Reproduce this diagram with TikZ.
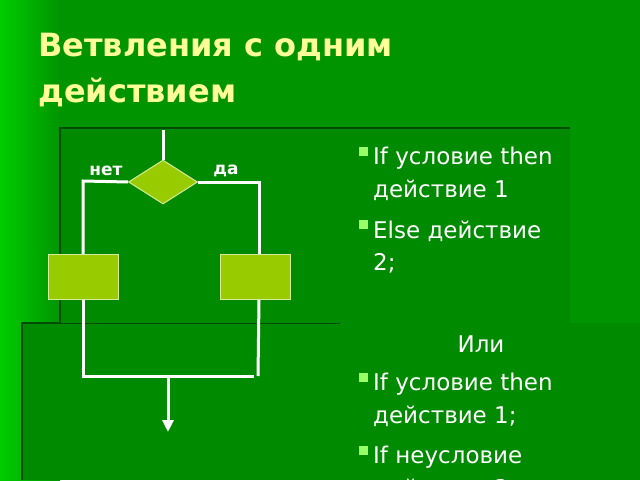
\documentclass[tikz,border=0pt]{standalone}
\usepackage{fontspec}
\setmainfont{DejaVu Sans}
\usetikzlibrary{shapes.geometric,arrows.meta}
\definecolor{boxc}{HTML}{99CC00}
\definecolor{bulc}{HTML}{99FF66}
\definecolor{titc}{HTML}{FFFF99}
\definecolor{bgc}{HTML}{009400}
\definecolor{panc}{HTML}{008A00}
\begin{document}
\begin{tikzpicture}[x=1pt,y=-1pt,
  wl/.style={draw=white,line width=3pt},
  box/.style={draw=white!60!boxc,fill=boxc,line width=1pt,minimum width=70pt,minimum height=45pt,inner sep=0pt},
  dia/.style={diamond,draw=white!60!boxc,fill=boxc,line width=1pt,minimum width=69pt,minimum height=44pt,inner sep=0pt,aspect=1.57},
  body/.style={text=white,font=\fontsize{23}{26}\selectfont,anchor=west,inner sep=0pt},
  bul/.style={fill=bulc,minimum size=9pt,inner sep=0pt},
  lab/.style={text=white,font=\bfseries\fontsize{17}{18}\selectfont,inner sep=0pt}]
\useasboundingbox (0,0) rectangle (640,480);
\clip (0,0) rectangle (640,480);
\fill[bgc] (0,0) rectangle (640,480);
\shade[left color=green!80!black,right color=bgc] (0,0) rectangle (60,480);
\fill[panc] (22,323) rectangle (640,480);
\draw[green!30!black,line width=1.5pt] (22,480) -- (22,323) -- (340,323);
\fill[panc] (60,128) rectangle (570,323);
\draw[green!30!black,line width=1.5pt] (60,323) -- (60,128) -- (570,128);
\node[anchor=west,text=titc,font=\bfseries\fontsize{32}{46}\selectfont,align=left,inner sep=0pt] (title) at (38,70) {Ветвления с одним\\действием};
% flowchart
\coordinate (top) at (163,130);
\node[dia] (d) at (163,182) {};
\node[box] (bl) at (83,277) {};
\node[box] (br) at (255,277) {};
\coordinate (lt) at (83,181);
\coordinate (rt) at (259,182);
\coordinate (lb) at (83,376);
\coordinate (rb) at (258,376);
\coordinate (mb) at (168,376);
\coordinate (end) at (168,432);
\draw[wl] (top) -- (d.north);
\draw[wl] (d.west) -- (lt) -- (bl.north);
\draw[wl] (d.east) -- (rt) -- (rt|-br.north);
\draw[wl] (bl.south) -- (lb) -- (254,376);
\draw[wl] (rt|-br.south) -- (rb);
\draw[wl,-{Triangle[width=11pt,length=12pt]}] (mb) -- (end);
\node[lab] (no) at (106,171) {нет};
\node[lab] (yes) at (226,171) {да};
% text
\node[bul] (b1) at (363,151) {};
\node[body] (t1) at (373,158) {If условие then};
\node[body] (t2) at (373,190) {действие 1};
\node[bul] (b2) at (363,224) {};
\node[body] (t3) at (373,231) {Else действие};
\node[body] (t4) at (373,263) {2;};
\node[body,anchor=center] (or) at (481,344) {Или};
\node[bul] (b3) at (363,377) {};
\node[body] (t5) at (373,384) {If условие then};
\node[body] (t6) at (373,416) {действие 1;};
\node[bul] (b4) at (363,450) {};
\node[body] (t7) at (373,457) {If неусловие};
\node[body] (t8) at (373,489) {действие 2};
\end{tikzpicture}
\end{document}
